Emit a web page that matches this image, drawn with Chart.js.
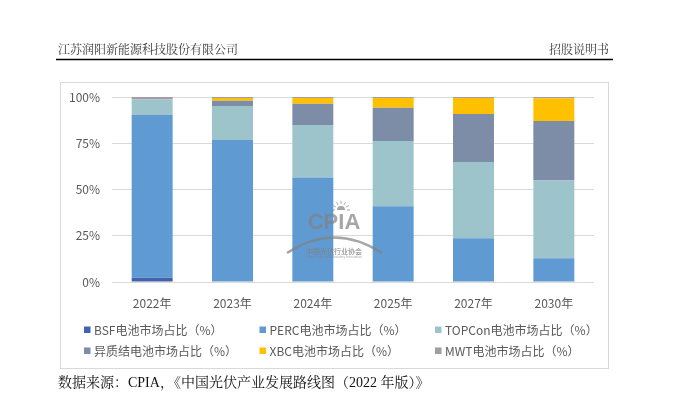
<!DOCTYPE html>
<html>
<head>
<meta charset="utf-8">
<script src="https://cdn.jsdelivr.net/npm/chart.js@4"></script>
<style>
html,body{margin:0;padding:0;background:#fff;}
canvas{display:block;}
</style>
</head>
<body>
<canvas id="c" width="689" height="398"></canvas>
<script>
const categories = ['2022年','2023年','2024年','2025年','2027年','2030年'];
const bsf    = [2.3, 0.3, 0, 0, 0, 0];
const perc   = [88.0, 76.4, 56.5, 41.0, 23.6, 12.8];
const topcon = [8.3, 18.4, 28.3, 35.2, 41.2, 42.1];
const hjt    = [0, 2.9, 11.6, 18.0, 26.0, 32.1];
const xbc    = [0, 1.4, 3.1, 5.3, 8.7, 12.3];
const mwt    = [1.4, 0.6, 0.5, 0.5, 0.5, 0.7];
const seriesNames = ['BSF电池市场占比（%）','PERC电池市场占比（%）','TOPCon电池市场占比（%）','异质结电池市场占比（%）','XBC电池市场占比（%）','MWT电池市场占比（%）'];
const yTicks = [0, 25, 50, 75, 100];
const headerLeft = '江苏润阳新能源科技股份有限公司';
const headerRight = '招股说明书';
const sourceText = '数据来源：CPIA，《中国光伏产业发展路线图（2022 年版）》';

const colors = ['#4263b0','#5f9bd2','#9dc4cb','#7d8da8','#ffc000','#a39ca6'];
const seriesData = [bsf, perc, topcon, hjt, xbc, mwt];
const SANS = '"Noto Sans CJK SC", "Noto Sans", sans-serif';

const pagePlugin = {
  id: 'page',
  beforeDraw(chart) {
    const ctx = chart.ctx;
    ctx.save();
    ctx.fillStyle = '#fff';
    ctx.fillRect(0, 0, chart.width, chart.height);
    // header
    ctx.fillStyle = '#3a3a3a';
    ctx.font = '12px "Noto Serif CJK SC", "Noto Sans CJK SC", serif';
    ctx.textBaseline = 'middle';
    ctx.textAlign = 'left';
    ctx.fillText(headerLeft, 58, 49.5);
    ctx.textAlign = 'right';
    ctx.fillText(headerRight, 609, 49.5);
    ctx.strokeStyle = '#000';
    ctx.lineWidth = 1.5;
    ctx.beginPath();
    ctx.moveTo(56, 59.5);
    ctx.lineTo(613, 59.5);
    ctx.stroke();
    // chart box
    ctx.strokeStyle = '#d9d9d9';
    ctx.lineWidth = 1;
    ctx.strokeRect(60.5, 82.5, 548, 286);
    // source
    ctx.fillStyle = '#111';
    ctx.textAlign = 'left';
    ctx.font = '14px "Liberation Serif", "Noto Serif CJK SC", "Noto Sans CJK SC", serif';
    ctx.fillText(sourceText, 58, 383);
    ctx.restore();
  },
  afterDraw(chart) {
    const ctx = chart.ctx;
    ctx.save();
    // legend (3-column grid)
    const colX = [84, 259.5, 435];
    const rowY = [330, 351];
    ctx.font = '12px ' + SANS;
    ctx.textBaseline = 'middle';
    ctx.textAlign = 'left';
    chart.data.datasets.forEach((ds, i) => {
      const x = colX[i % 3], y = rowY[Math.floor(i / 3)];
      ctx.fillStyle = ds.backgroundColor;
      ctx.fillRect(x, y - 3.5, 6.5, 6.5);
      ctx.fillStyle = '#595959';
      ctx.fillText(ds.label, x + 10, y);
    });
    // watermark
    ctx.globalAlpha = 0.7;
    ctx.strokeStyle = '#808080';
    ctx.fillStyle = '#808080';
    ctx.lineWidth = 2.5;
    ctx.beginPath();
    ctx.moveTo(287, 253);
    ctx.quadraticCurveTo(334, 222, 382, 253);
    ctx.stroke();
    // sun
    ctx.lineWidth = 1;
    ctx.beginPath();
    ctx.arc(341, 210, 4, Math.PI, 2 * Math.PI);
    ctx.fill();
    for (let k = 0; k <= 6; k++) {
      const a = Math.PI + k * Math.PI / 6;
      ctx.beginPath();
      ctx.moveTo(341 + Math.cos(a) * 6, 210 + Math.sin(a) * 6);
      ctx.lineTo(341 + Math.cos(a) * 9, 210 + Math.sin(a) * 9);
      ctx.stroke();
    }
    ctx.font = 'bold 22px "Liberation Sans", "DejaVu Sans", sans-serif';
    ctx.textAlign = 'center';
    ctx.fillText('CPIA', 334, 223);
    ctx.font = 'bold 7px ' + SANS;
    ctx.fillText('中国光伏行业协会', 334, 251);
    ctx.font = '3px ' + SANS;
    ctx.fillText('China Photovoltaic Industry Association', 334, 257);
    ctx.restore();
  }
};

new Chart(document.getElementById('c'), {
  type: 'bar',
  data: {
    labels: categories,
    datasets: seriesData.map((d, i) => ({
      label: seriesNames[i],
      data: d,
      backgroundColor: colors[i],
      borderWidth: 0,
      categoryPercentage: 1,
      barPercentage: 0.51
    }))
  },
  options: {
    responsive: false,
    animation: false,
    devicePixelRatio: 1,
    layout: { padding: { left: 62, right: 95, top: 97, bottom: 70 } },
    plugins: {
      legend: { display: false },
      tooltip: { enabled: false }
    },
    scales: {
      x: {
        stacked: true,
        grid: { display: false },
        border: { display: false },
        ticks: { color: '#595959', font: { size: 12, family: SANS }, padding: 6 },
        afterFit(s) { s.height = 46; }
      },
      y: {
        stacked: true,
        min: 0, max: 100,
        afterBuildTicks(s) { s.ticks = yTicks.map(v => ({ value: v })); },
        grid: { color: '#d9d9d9', drawTicks: false, lineWidth: 1 },
        border: { display: false },
        ticks: { color: '#595959', font: { size: 12, family: SANS }, padding: 12,
                 callback: v => v + '%' },
        afterFit(s) { s.width = 50; }
      }
    }
  },
  plugins: [pagePlugin]
});
</script>
</body>
</html>
